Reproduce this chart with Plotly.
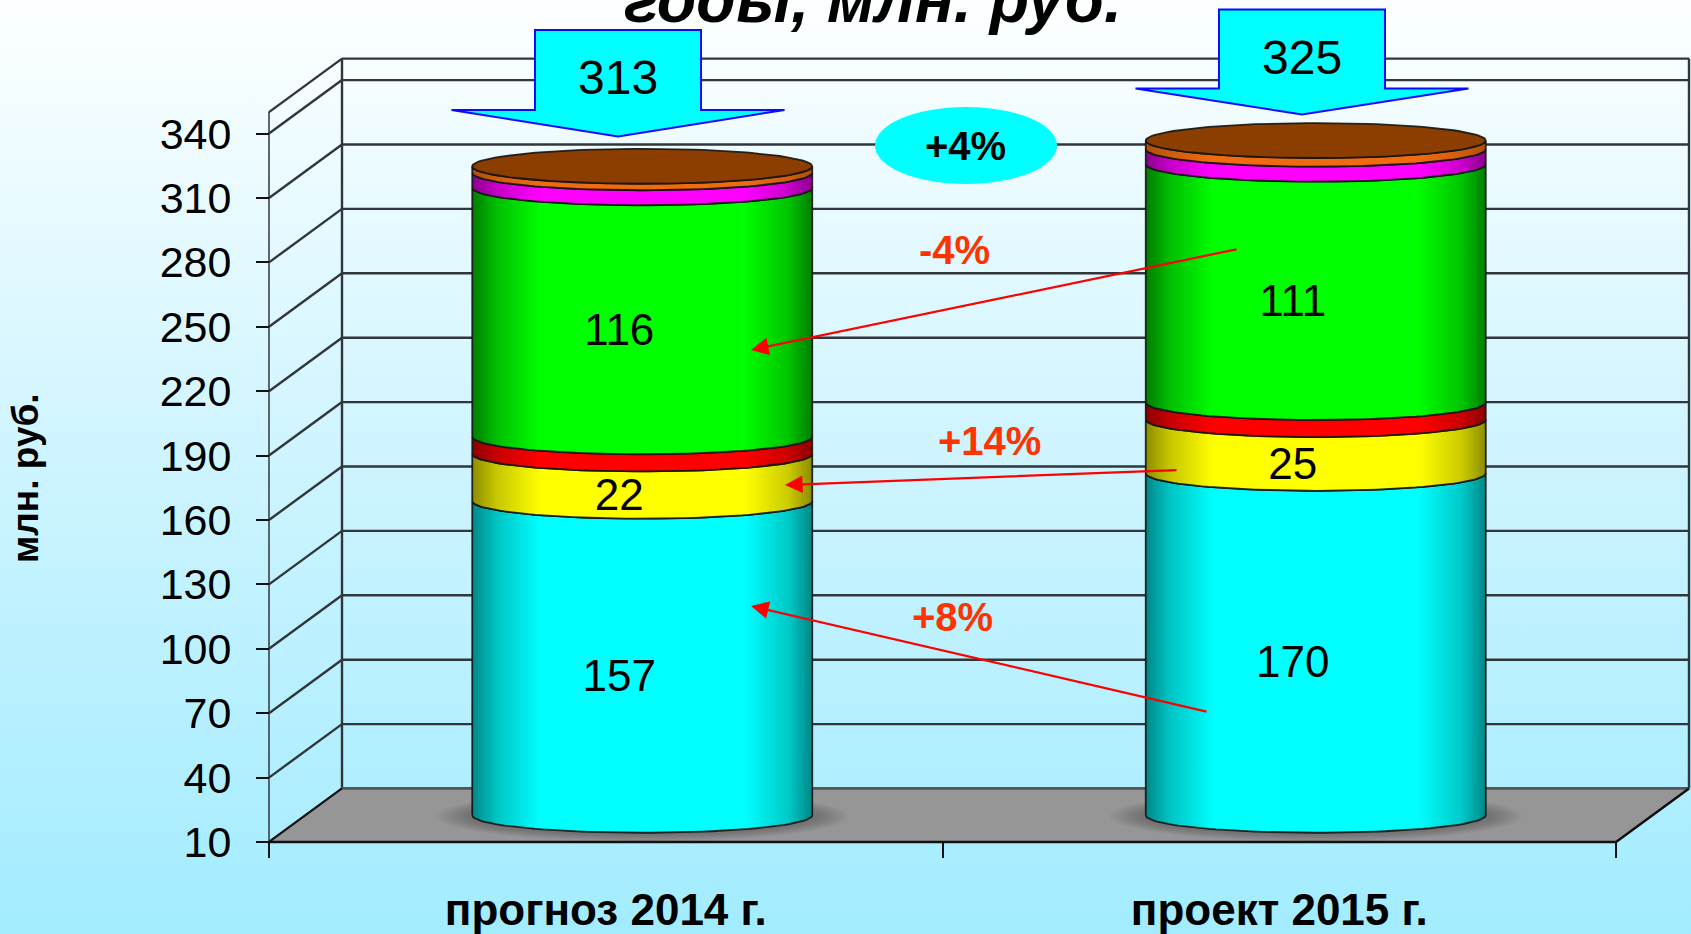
import numpy as np
import plotly.graph_objects as go

# ---------- data ----------
categories = ["прогноз 2014 г.", "проект 2015 г."]
totals = [313, 325]
series_a = [157, 170]   # cyan
series_b = [22, 25]     # yellow
series_c = [8, 8]       # red
series_d = [116, 111]   # green
series_e = [7, 7]       # magenta
series_f = [3, 4]       # orange
y_ticks = [10, 40, 70, 100, 130, 160, 190, 220, 250, 280, 310, 340]
y_top = 350
labelled = [True, True, False, True, False, False]
title_text = "годы, млн. руб."
y_title = "млн. руб."
change_total = "+4%"
change_d = "-4%"
change_b = "+14%"
change_a = "+8%"

# ---------- styling ----------
W, H = 1691, 934
FONT = "Liberation Sans"
PX_X = 673.5     # px per x unit
PX_Y = 2.1467    # px per y unit
X0_PX, Y10_PX = 269, 842
DX = 73 / PX_X
DY = 53.5 / PX_Y
RX = 170 / PX_X
RY = 17.5 / PX_Y
NUDGE = 1.5 / PX_Y
colors = [((0, 255, 255), (0, 135, 135)), ((255, 255, 0), (140, 140, 0)), ((255, 0, 0), (140, 0, 0)),
          ((0, 255, 0), (0, 125, 0)), ((255, 0, 255), (140, 0, 140)), ((240, 106, 16), (170, 80, 10))]
CAP = "#8b3e00"
EDGE = "rgba(20,20,20,0.9)"
WALL = "#30363a"

x_range = [-X0_PX / PX_X, (W - X0_PX) / PX_X]
y_range = [10 - (H - Y10_PX) / PX_Y, 10 + Y10_PX / PX_Y]
px = lambda v: v / W
py = lambda v: 1 - v / H

def mix(a, b, f):
    return "rgb(%d,%d,%d)" % tuple(round(a[j] + (b[j] - a[j]) * f) for j in range(3))

fig = go.Figure()

def line(xs, ys, color=WALL, width=2.4):
    fig.add_trace(go.Scatter(x=xs, y=ys, mode="lines", line=dict(color=color, width=width),
                             hoverinfo="skip", showlegend=False))

# background
fig.add_trace(go.Scatter(
    x=[x_range[0], x_range[1], x_range[1], x_range[0], x_range[0]],
    y=[y_range[0], y_range[0], y_range[1], y_range[1], y_range[0]],
    mode="none", fill="toself", hoverinfo="skip", showlegend=False,
    fillgradient=dict(type="vertical",
                      colorscale=[[0, "#a2ecff"], [0.5, "#cdf4ff"], [1, "#fdffff"]])))

# walls
gx, gy = [], []
for t in y_ticks + [y_top]:
    gx += [DX, 2 + DX, None, 0, DX, None]
    gy += [t + DY, t + DY, None, t, t + DY, None]
line(gx, gy)
line([DX, DX], [10 + DY, y_top + DY])
line([2 + DX, 2 + DX], [10 + DY, y_top + DY])
line([0, 0], [y_ticks[0], y_top], width=1.5)

# floor
fig.add_trace(go.Scatter(
    x=[0, 2, 2 + DX, DX, 0], y=[10, 10, 10 + DY, 10 + DY, 10],
    mode="none", fill="toself", fillcolor="#969696", hoverinfo="skip", showlegend=False))
line([DX, 2 + DX], [10 + DY, 10 + DY], width=2.5, color="#555")
line([0, 2, 2 + DX], [10, 10, 10 + DY], width=2.5, color="#111")
line([0, DX], [10, 10 + DY], width=2, color="#111")

# cylinders
t = np.linspace(0, np.pi, 61)
stack = [series_a, series_b, series_c, series_d, series_e, series_f]
lab_x, lab_y, lab_t = [], [], []
for i in range(len(categories)):
    cx = i + 0.5 + DX / 2
    mid = 10 + DY / 2
    # soft shadow on the floor
    for k in range(10):
        f = 1 - k / 10
        th = np.linspace(0, 2 * np.pi, 61)
        fig.add_trace(go.Scatter(
            x=cx + (RX + 36 * f / PX_X) * np.cos(th),
            y=mid + (RY + 8 * f / PX_Y) * np.sin(th) - 1 / PX_Y,
            mode="none", fill="toself", fillcolor="rgba(60,60,60,0.04)",
            hoverinfo="skip", showlegend=False))
    base = 0
    for s, vals in enumerate(stack):
        v0 = max(base, 10) - (NUDGE if base > 10 else 0)
        v1 = base + vals[i] - NUDGE
        xs = np.concatenate([cx - RX * np.cos(t), cx + RX * np.cos(t), [cx - RX]])
        ys = np.concatenate([v0 + DY / 2 - RY * np.sin(t), v1 + DY / 2 - RY * np.sin(t),
                             [v0 + DY / 2]])
        bright, dark = colors[s]
        fig.add_trace(go.Scatter(
            x=xs, y=ys, mode="lines", fill="toself",
            line=dict(color=EDGE, width=1.8), hoverinfo="skip", showlegend=False,
            fillgradient=dict(type="horizontal", colorscale=[
                [0, mix(bright, dark, 1)], [0.07, mix(bright, dark, 0.5)],
                [0.2, mix(bright, dark, 0)], [0.8, mix(bright, dark, 0)],
                [0.93, mix(bright, dark, 0.45)], [1, mix(bright, dark, 1)]])))
        if labelled[s]:
            lab_x.append(i + 0.5 + 13.5 / PX_X)
            lab_y.append((v0 + v1) / 2 + 1.85 + NUDGE)
            lab_t.append(str(vals[i]))
        base += vals[i]
    th = np.linspace(0, 2 * np.pi, 121)
    fig.add_trace(go.Scatter(
        x=cx + RX * np.cos(th), y=base - NUDGE + DY / 2 + RY * np.sin(th),
        mode="lines", fill="toself", fillcolor=CAP, line=dict(color=EDGE, width=1.8),
        hoverinfo="skip", showlegend=False))

fig.add_trace(go.Scatter(x=lab_x, y=lab_y, text=lab_t, mode="text",
                         textfont=dict(family=FONT, size=44, color="black"),
                         hoverinfo="skip", showlegend=False))

# callouts
shapes, notes = [], []
def note(xx, yy, text, size, color="black", **kw):
    notes.append(dict(x=px(xx), y=py(yy), text=text, showarrow=False, xref="paper", yref="paper",
                      xanchor="center", yanchor="middle",
                      font=dict(family=FONT, size=size, color=color), **kw))

def callout(cx_px, top, shoulder, tip, text):
    b, w = 83, 166.5
    pts = [(cx_px - b, top), (cx_px + b, top), (cx_px + b, shoulder), (cx_px + w, shoulder),
           (cx_px, tip), (cx_px - w, shoulder), (cx_px - b, shoulder)]
    path = "M" + " L".join(f"{px(a):.5f},{py(c):.5f}" for a, c in pts) + " Z"
    shapes.append(dict(type="path", xref="paper", yref="paper", path=path,
                       fillcolor="#00ffff", line=dict(color="#0a0aff", width=2)))
    note(cx_px, (top + shoulder) / 2 + 8, text, 48)

callout(618, 30, 110, 136.5, str(totals[0]))
callout(1302, 9.5, 88.5, 114.5, str(totals[1]))

shapes.append(dict(type="circle", xref="paper", yref="paper",
                   x0=px(875), x1=px(1057), y0=py(107), y1=py(184),
                   fillcolor="#00ffff", line=dict(width=0)))
note(965, 146, f"<b>{change_total}</b>", 40)

for txt, xx, yy in [(change_d, 954, 250), (change_b, 989, 441), (change_a, 952, 617)]:
    note(xx, yy, f"<b>{txt}</b>", 40, color="#ff3300")

for x1, y1, x2, y2 in [(1238, 249, 751, 350), (1178, 470, 785, 485), (1208, 712, 751, 606)]:
    notes.append(dict(x=px(x2), y=py(y2), ax=x1 - x2, ay=y1 - y2, axref="pixel", ayref="pixel",
                      xref="paper", yref="paper", text="", showarrow=True, arrowhead=2,
                      arrowsize=1.6, arrowwidth=2.2, arrowcolor="#ff0000", standoff=0))

note(25, 478, f"<b>{y_title}</b>", 37, textangle=-90)

fig.update_layout(
    width=W, height=H, margin=dict(l=0, r=0, t=0, b=0, pad=0, autoexpand=False), autosize=False,
    paper_bgcolor="#c8f3ff", plot_bgcolor="rgba(0,0,0,0)", showlegend=False,
    shapes=shapes, annotations=notes, hovermode=False,
    title=dict(text=f"<b><i>{title_text}</i></b>", x=873 / W, xanchor="center",
               y=1 - 22 / H, yanchor="bottom", yref="container", automargin=False,
               font=dict(family=FONT, size=64.5, color="black")),
    xaxis=dict(range=x_range, domain=[0, 1], showgrid=False, zeroline=False, showline=False,
               anchor="free", position=py(842), automargin=False,
               tickmode="array", tickvals=[0.5, 1.5], ticktext=categories,
               ticks="outside", ticklen=29, tickcolor="rgba(0,0,0,0)",
               tickfont=dict(family=FONT, size=44, color="black", weight="bold"),
               minor=dict(tickmode="array", tickvals=[0, 1, 2], ticks="outside", ticklen=15,
                          tickcolor="#111", tickwidth=1.5, showgrid=False)),
    yaxis=dict(range=y_range, domain=[0, 1], showgrid=False, zeroline=False, showline=False,
               anchor="free", position=px(X0_PX), automargin=False,
               tickmode="array", tickvals=y_ticks, ticks="outside", ticklen=13, tickwidth=1.5,
               tickcolor="#111", ticklabelstandoff=16,
               tickfont=dict(family=FONT, size=43, color="black")),
)

fig.write_html("out.html", config=dict(displayModeBar=False),
               post_script="document.body.style.margin='0';document.body.style.overflow='hidden';")
